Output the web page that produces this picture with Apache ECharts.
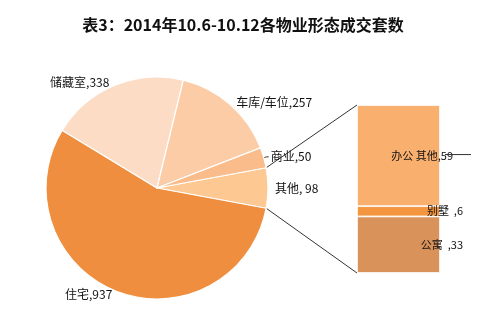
<!DOCTYPE html>
<html><head><meta charset="utf-8">
<script src="https://cdn.jsdelivr.net/npm/echarts@6/dist/echarts.min.js"></script>
<style>html,body{margin:0;padding:0;background:#fff}#c{width:486px;height:322px}</style>
</head><body><div id="c"></div>
<script>
var titleText = '表3：2014年10.6-10.12各物业形态成交套数';
var pieNames = ['其他', '住宅', '储藏室', '车库/车位', '商业'];
var pieValues = [98, 937, 338, 257, 50];
var pieColors = ['#FDC891', '#EE8E3E', '#FCDCC5', '#FBCCA5', '#F9BC8A'];
var pieLabelFmt = ['{b}, {c}', '{b},{c}', '{b},{c}', '{b},{c}', '{b},{c}'];
var barNames = ['公寓', '别墅', '办公 其他'];
var barValues = [33, 6, 59];
var barColors = ['#D8925A', '#F4963F', '#F9AF6E'];
var barLabels = ['公寓  ,33', '别墅  ,6', '办公 其他,59'];

var total = pieValues.reduce(function(a,b){return a+b;},0);
var startAngle = pieValues[0] / total * 360 / 2;
var pieCenter = [157, 188], pieR = 111;
var font = '"Noto Sans CJK SC", sans-serif';

var chart = echarts.init(document.getElementById('c'));
var pieData = pieNames.map(function(n,i){
  return {name:n, value:pieValues[i], itemStyle:{color:pieColors[i]},
    label:{formatter:pieLabelFmt[i]},
    labelLine:{show: n==='商业'}};
});
var barTotal = barValues.reduce(function(a,b){return a+b;},0);
var barSeries = barNames.map(function(n,i){
  return {type:'bar', name:n, stack:'s', barWidth:'100%', data:[barValues[i]],
    itemStyle:{color:barColors[i], borderColor:'#fff', borderWidth:0.8},
    label:{show:true, position:'insideRight', distance: i===2?-13:-23, formatter: barLabels[i],
      color:'#111', fontSize:11, fontFamily:font},
    silent:true, animation:false};
});
chart.setOption({
  animation:false,
  title:{text:titleText, left:'center', top:12, textStyle:{fontSize:16, fontWeight:'bold', color:'#111', fontFamily:font}},
  grid:{left:357, top:105, width:83, height:168},
  xAxis:{type:'category', data:['其他'], show:false},
  yAxis:{type:'value', min:0, max:barTotal, show:false},
  series:[{
    type:'pie', center:pieCenter, radius:pieR, startAngle:startAngle, clockwise:true,
    data:pieData, avoidLabelOverlap:false,
    itemStyle:{borderColor:'#fff', borderWidth:1.2},
    label:{show:true, color:'#111', fontSize:12, fontFamily:font, position:'outside', distanceToLabelLine:2},
    labelLine:{length:3, length2:2, lineStyle:{color:'#333', width:1}},
    silent:true
  }].concat(barSeries)
});

// connector lines derived from pie geometry and bar grid
var a = startAngle * Math.PI / 180;
var pTop = [pieCenter[0] + pieR*Math.cos(a), pieCenter[1] - pieR*Math.sin(a)];
var pBot = [pieCenter[0] + pieR*Math.cos(a), pieCenter[1] + pieR*Math.sin(a)];
var bTop = chart.convertToPixel({gridIndex:0}, ['其他', barTotal]);
var bBot = chart.convertToPixel({gridIndex:0}, ['其他', 0]);
var half = 83/2;
var midTop = chart.convertToPixel({gridIndex:0}, ['其他', barTotal - barValues[2]/2]);
chart.setOption({graphic:[
  {type:'line', shape:{x1:pTop[0], y1:pTop[1], x2:bTop[0]-half, y2:bTop[1]}, style:{stroke:'#333', lineWidth:1}},
  {type:'line', shape:{x1:pBot[0], y1:pBot[1], x2:bBot[0]-half, y2:bBot[1]}, style:{stroke:'#333', lineWidth:1}},
  {type:'line', shape:{x1:bTop[0]+half+5, y1:midTop[1]-1, x2:bTop[0]+half+31, y2:midTop[1]-1}, style:{stroke:'#333', lineWidth:1}, z:100}
]});
</script></body></html>
